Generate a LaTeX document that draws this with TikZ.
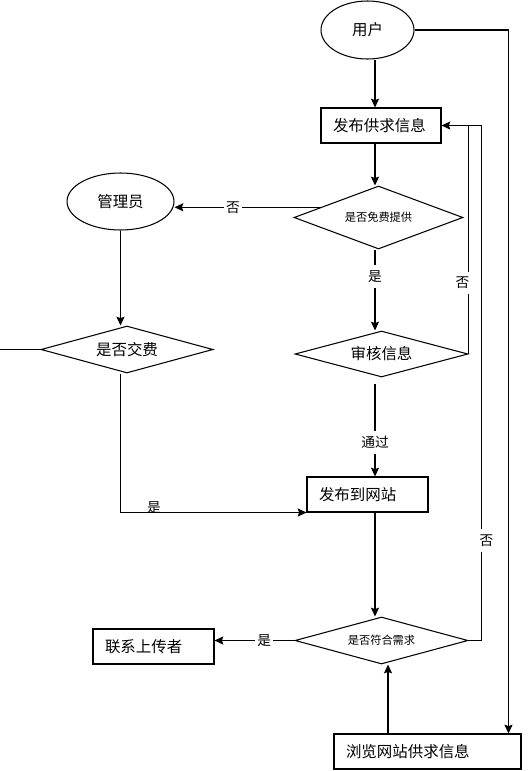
\documentclass[tikz,border=0pt]{standalone}
\usepackage{fontspec}
\setmainfont{Noto Sans CJK SC}
\usetikzlibrary{shapes.geometric, arrows.meta}
\tikzstyle{arrow} = [line width=0.6pt,->,>={Stealth[length=5pt,width=4.6pt,inset=0.8pt]}]
\tikzstyle{plain} = [line width=0.6pt]
\tikzstyle{oval} = [draw, line width=0.6pt, ellipse, inner sep=0pt, font=\fontsize{8.8pt}{10pt}\selectfont]
\tikzstyle{box} = [draw, line width=0.6pt, rectangle, inner xsep=0.24cm, minimum height=0.7cm, align=left, font=\fontsize{8.8pt}{10pt}\selectfont]
\tikzstyle{decide} = [draw, line width=0.6pt, diamond, inner sep=0pt, font=\fontsize{8.8pt}{10pt}\selectfont]
\tikzstyle{note} = [fill=white, inner xsep=1pt, inner ysep=3pt, font=\fontsize{7.8pt}{9pt}\selectfont]

\begin{document}
\begin{tikzpicture}[x=0.02cm, y=-0.02cm]
\useasboundingbox (0,0) rectangle (528,771);

% nodes
\node[oval, minimum width=1.86cm, minimum height=1.16cm] (user) at (367.5,30) {用户};
\node[box, text width=1.92cm] (pub) at (381,125.5) {发布供求信息};
\node[decide, minimum width=3.38cm, minimum height=1.26cm, aspect=2.7, font=\fontsize{6.4pt}{8pt}\selectfont] (free) at (378.5,217.5) {是否免费提供};
\node[oval, minimum width=2.14cm, minimum height=1.14cm] (admin) at (120.5,201.5) {管理员};
\node[decide, minimum width=3.44cm, minimum height=0.94cm, aspect=3.6] (fee) at (127,349.5) {是否交费};
\node[decide, minimum width=3.46cm, minimum height=0.92cm, aspect=3.7] (audit) at (381.5,354) {审核信息};
\node[box, text width=1.94cm] (web) at (367.5,494.5) {发布到网站};
\node[decide, minimum width=3.46cm, minimum height=0.94cm, aspect=3.7, font=\fontsize{6.4pt}{8pt}\selectfont] (match) at (381.5,640.5) {是否符合需求};
\node[box, text width=1.94cm] (contact) at (153.5,646.5) {联系上传者};
\node[box, text width=3.26cm] (browse) at (427.5,751.5) {浏览网站供求信息};

\coordinate (col) at (375,0);
\coordinate (edge) at (0,349.5);
\path ([xshift=-0.79cm]browse.north) coordinate (up);
\path ([xshift=-0.26cm]browse.north east) coordinate (down);

% connectors
\draw[arrow] (user.south -| col) -- (pub.north -| col);
\draw[arrow] (pub.south -| col) -- (free.north -| col);
\draw[arrow] (free.170) -- node[note, pos=0.6] {否} (free.170 -| admin.east);
\draw[arrow] (free.south -| col) -- node[note, pos=0.33] {是} (audit.north -| col);
\draw[arrow] (audit.south -| col) ++(0,6) -- node[note, pos=0.63] {通过} (web.north -| col);
\draw[arrow] (web.south -| col) -- (match.north -| col);
\draw[arrow] (match.west) -- node[note, pos=0.38] {是} (match.west -| contact.east);
\draw[arrow] (match.east) -- ++(13,0) |- node[note, pos=0.097, xshift=0.1cm] {否} (pub.east);
\draw[plain] (audit.east) -- node[note, pos=0.31, xshift=-0.12cm] {否} (audit.east |- pub.east);
\draw[arrow] (user.east) -| (down);
\draw[arrow] (up) -- (up |- match.south);
\draw[arrow] (admin.south) -- (admin.south |- fee.north);
\draw[plain] (fee.west) -- (edge);
\draw[arrow] (fee.south -| admin.south) |- node[pos=0.59, yshift=0.09cm, font=\fontsize{7.8pt}{9pt}\selectfont, inner sep=0pt] {是} (web.south west);
\end{tikzpicture}
\end{document}
